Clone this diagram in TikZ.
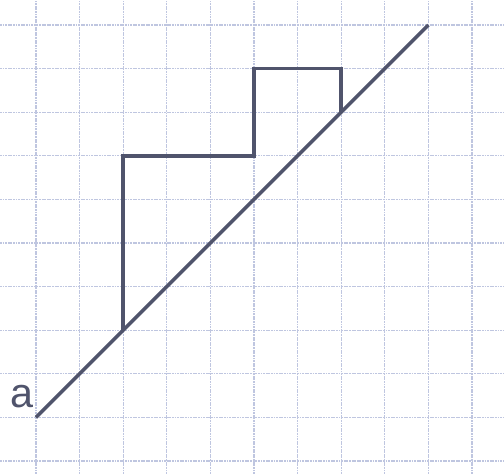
\documentclass[tikz,border=0pt]{standalone}
\usepackage{fontspec}
\setmainfont{Liberation Sans}
\usepackage{xcolor}
\usetikzlibrary{positioning}
\definecolor{ink}{HTML}{50546C}
\definecolor{paper}{HTML}{BFC6E0}

\begin{document}
\begin{tikzpicture}[
    gridline/.style={draw=paper,line width=0.8pt,dash pattern=on 1.2pt off 0.5pt},
    pen/.style={draw=ink,line width=2.3pt,line join=miter},
    lbl/.style={text=ink,font=\fontsize{27}{30}\selectfont,inner sep=0pt}]
    \useasboundingbox (-0.826,-0.298) rectangle (10.734,10.573);
    \draw[gridline] (-0.826,-0.298) grid (10.734,10.573);
    % points on the squared paper
    \coordinate (start) at (0,1);
    \coordinate (finish) at (9,10);
    \coordinate (p0) at (2,3);
    \coordinate (p1) at (2,7);
    \coordinate (p2) at (5,7);
    \coordinate (p3) at (5,9);
    \coordinate (p4) at (7,9);
    \coordinate (p5) at (7,8);
    \draw[pen] (start)--(finish);
    \draw[pen] (p0)--(p1)--(p2)--(p3)--(p4)--(p5);
    \node[lbl] (a) at (-0.33,1.47) {a};
  \end{tikzpicture}
\end{document}
